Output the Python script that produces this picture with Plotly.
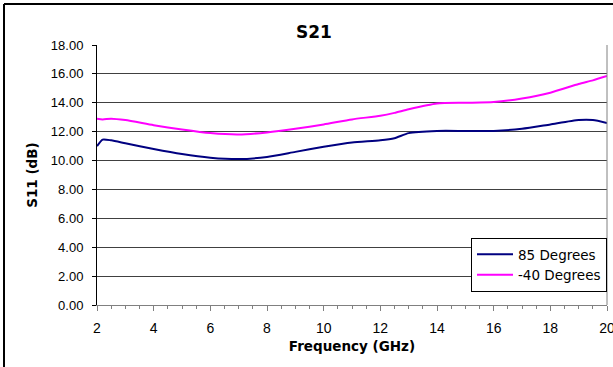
import plotly.graph_objects as go

freq = [2.0, 2.2, 2.5, 3, 4, 5, 6, 7, 8, 9, 10, 11, 12, 12.5, 13, 14, 15, 16, 17, 18, 19, 19.5, 20]
s85 = [11.0, 11.45, 11.4, 11.2, 10.8, 10.45, 10.2, 10.1, 10.25, 10.6, 10.95, 11.25, 11.4, 11.55, 11.9, 12.05, 12.05, 12.05, 12.2, 12.5, 12.8, 12.8, 12.6]
s40 = [12.9, 12.85, 12.9, 12.8, 12.45, 12.15, 11.9, 11.8, 11.95, 12.2, 12.5, 12.85, 13.1, 13.3, 13.55, 13.95, 14.0, 14.05, 14.3, 14.7, 15.3, 15.55, 15.85]
yticks = [0, 2, 4, 6, 8, 10, 12, 14, 16, 18]
xticks = [2, 4, 6, 8, 10, 12, 14, 16, 18, 20]

fig = go.Figure()
fig.add_trace(go.Scatter(x=freq, y=s85, mode="lines", name="85 Degrees",
                         line=dict(color="#000080", width=2, shape="spline", smoothing=0.6)))
fig.add_trace(go.Scatter(x=freq, y=s40, mode="lines", name="-40 Degrees",
                         line=dict(color="#FF00FF", width=2, shape="spline", smoothing=0.6)))

font = "Liberation Sans, Arial, sans-serif"
bold = "DejaVu Sans, sans-serif"
L, R, T, B = 97, 6, 45, 62
W = 613 - L - R
H = 367 - T - B
fig.update_layout(
    width=613, height=367,
    margin=dict(l=L, r=R, t=T, b=B, autoexpand=False),
    paper_bgcolor="white", plot_bgcolor="white",
    font=dict(family=font, color="black", size=11),
    title=dict(text="<b>S21</b>", x=(314 - L) / W, xref="paper", xanchor="center",
               y=1 - 32 / 367, yanchor="middle", font=dict(size=17, family=bold)),
    xaxis=dict(range=[2, 20], tickvals=xticks, ticktext=[str(v) for v in xticks], automargin=False,
               showgrid=False, zeroline=False, showline=True, linecolor="#808080", linewidth=1,
               ticks="outside", ticklen=5, tickcolor="#808080",
               minor=dict(dtick=0.5, ticks="outside", ticklen=3, tickcolor="#808080", showgrid=False),
               tickfont=dict(size=14, family=font), ticklabelstandoff=5, ticklabeloverflow="allow",
               title=dict(text="<b>Frequency (GHz)</b>", font=dict(size=13.5, family=bold), standoff=6)),
    yaxis=dict(range=[0, 18], tickvals=yticks, ticktext=[f"{v:.2f}" for v in yticks], automargin=False,
               showgrid=True, gridcolor="#404040", gridwidth=1, zeroline=False,
               showline=True, linecolor="black", linewidth=1, mirror=False,
               ticks="outside", ticklen=4, tickcolor="black",
               tickfont=dict(size=13, family=font), ticklabelstandoff=6,
               title=dict(text="<b>S11 (dB)</b>", font=dict(size=13.5, family=bold), standoff=10)),
    legend=dict(x=(607 - L) / W, xanchor="right", y=(305 - 238) / H, yanchor="top",
                bgcolor="white", bordercolor="black", borderwidth=1,
                font=dict(size=13.5, family=bold),
                tracegroupgap=0, itemwidth=36),
    showlegend=True,
)

# right border of plot area and outer chart frame
fig.add_shape(type="line", xref="paper", yref="paper", x0=1, x1=1, y0=0, y1=1,
              line=dict(color="#808080", width=1))
fig.add_shape(type="line", xref="paper", yref="paper", x0=-(L - 4) / W, x1=-(L - 4) / W, y0=-0.3,
              y1=(H + T - 4) / H, line=dict(color="black", width=2))
fig.add_shape(type="line", xref="paper", yref="paper", x0=-(L - 4) / W, x1=1.1, y0=(H + T - 4) / H,
              y1=(H + T - 4) / H, line=dict(color="black", width=2))

fig.write_html("out.html", config={"displayModeBar": False},
               post_script="document.body.style.margin='0';document.body.style.overflow='hidden';")
